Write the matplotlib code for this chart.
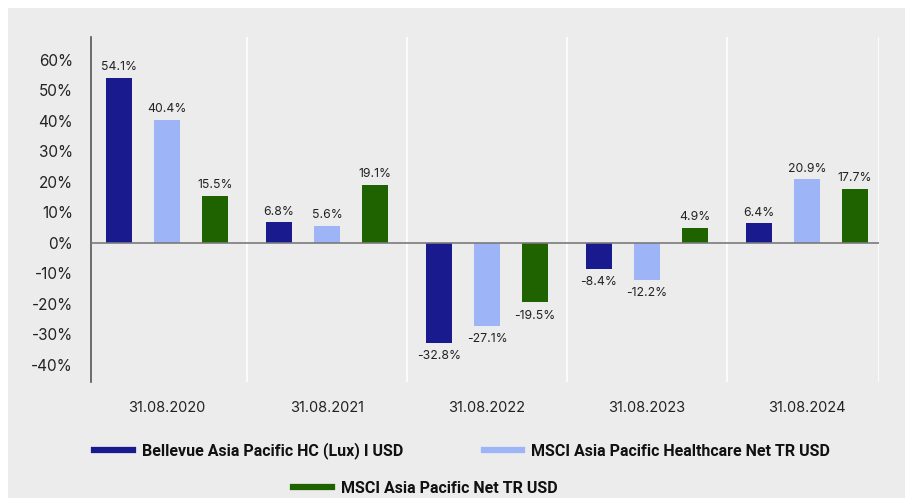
import matplotlib.pyplot as plt
from matplotlib.patches import Rectangle
from matplotlib.lines import Line2D
import numpy as np

dates = ["31.08.2020", "31.08.2021", "31.08.2022", "31.08.2023", "31.08.2024"]
fund = [54.1, 6.8, -32.8, -8.4, 6.4]
hc_index = [40.4, 5.6, -27.1, -12.2, 20.9]
ap_index = [15.5, 19.1, -19.5, 4.9, 17.7]
series_names = [
    "Bellevue Asia Pacific HC (Lux) I USD",
    "MSCI Asia Pacific Healthcare Net TR USD",
    "MSCI Asia Pacific Net TR USD",
]
colors = ["#1a1a8f", "#9db4f7", "#1f6300"]
y_ticks = [60, 50, 40, 30, 20, 10, 0, -10, -20, -30, -40]

BG = "#ececec"
plt.rcParams["font.family"] = ["Inter", "DejaVu Sans"]

fig = plt.figure(figsize=(9.05, 4.98), dpi=100, facecolor="white")
# grey panel behind everything (white strip at top/left)
fig.patches.append(Rectangle((8 / 905, 0), 1, 1 - 8 / 498, transform=fig.transFigure,
                             facecolor=BG, edgecolor="none", zorder=-1))

ax = fig.add_axes([91 / 905, 1 - 382 / 498, (879 - 91) / 905, (382 - 37) / 498])
ax.set_facecolor(BG)

x = np.arange(len(dates))
offset = 0.3
width = 0.157
for i, (vals, c) in enumerate(zip([fund, hc_index, ap_index], colors)):
    xs = x + (i - 1) * offset
    ax.bar(xs, vals, width=width, color=c, zorder=3)
    for xi, v in zip(xs, vals):
        if v >= 0:
            ax.text(xi, v + 1.5, f"{v:.1f}%", ha="center", va="bottom", fontsize=8.8, color="#222222")
        else:
            ax.text(xi, v - 2.4, f"{v:.1f}%", ha="center", va="top", fontsize=8.8, color="#222222")

ax.set_xlim(-0.475, 4.45)
ax.set_ylim(-45.6, 67.5)

# white separators between date groups
for sep in x[:-1] + 0.5:
    ax.axvline(sep, color="white", lw=1.2, zorder=1)
ax.axvline(4.45, color="white", lw=1.2, zorder=1)
ax.axhline(0, color="#7a7a7a", lw=1.2, zorder=4)

ax.set_yticks(y_ticks)
ax.set_yticklabels([f"{t}%" for t in y_ticks], fontsize=11, color="#222222")
ax.set_xticks(x)
ax.set_xticklabels(dates, fontsize=10.5, color="#222222")
ax.tick_params(axis="y", length=0, pad=13)
ax.tick_params(axis="x", length=0, pad=14)

for s in ["top", "right", "bottom"]:
    ax.spines[s].set_visible(False)
ax.spines["left"].set_color("#555555")
ax.spines["left"].set_linewidth(1.2)

handles = [Line2D([0], [0], color=c, lw=4.5) for c in colors]
leg_font = {"family": "Roboto", "weight": "bold", "size": 11.5}
leg1 = fig.legend(handles[:2], series_names[:2], ncol=2, loc="center left",
                  bbox_to_anchor=(80 / 905, 1 - 451 / 498), frameon=False,
                  prop=leg_font, handlelength=2.4, handletextpad=0.6, columnspacing=5.0)
leg2 = fig.legend(handles[2:], series_names[2:], loc="center left",
                  bbox_to_anchor=(279 / 905, 1 - 488 / 498), frameon=False,
                  prop=leg_font, handlelength=2.4, handletextpad=0.6)
for leg in (leg1, leg2):
    for t in leg.get_texts():
        t.set_color("#111111")

fig.savefig("out.png", dpi=100, facecolor=fig.get_facecolor())
